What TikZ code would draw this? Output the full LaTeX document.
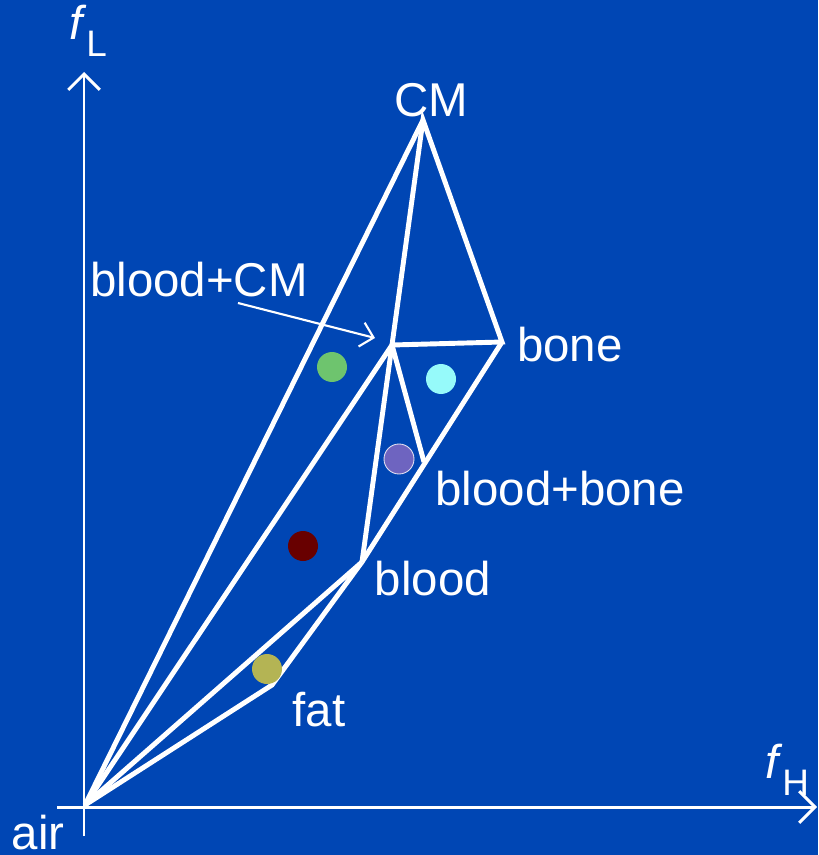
\documentclass[tikz,border=0pt]{standalone}
\usepackage{fontspec}
\setmainfont{Liberation Sans}
\usetikzlibrary{arrows.meta}
\definecolor{bgblue}{RGB}{0,70,180}
\definecolor{dotgreen}{RGB}{110,196,110}
\definecolor{dotcyan}{RGB}{150,250,250}
\definecolor{dotpurple}{RGB}{110,100,192}
\definecolor{dotred}{RGB}{104,0,0}
\definecolor{dotolive}{RGB}{180,180,84}
\begin{document}
\begin{tikzpicture}[x=0.02cm,y=-0.02cm,axis/.style={white,line width=1.7pt,-{Straight Barb[length=9pt,width=18pt,line width=1.7pt]}},edge/.style={white,line width=2.8pt,line join=miter},label/.style={text=white,inner sep=0pt,font=\fontsize{27}{30}\selectfont},dot/.style={circle,inner sep=0pt,minimum size=0.6cm}]
\fill[bgblue] (0,0) rectangle (818,855);
\useasboundingbox (0,0) rectangle (818,855);
% corners of the tetrahedron
\coordinate (air) at (85,805);
\coordinate (CM) at (423,120);
\coordinate (bone) at (502,342);
\coordinate (bloodCM) at (392,345);
\coordinate (bloodbone) at (424,462);
\coordinate (blood) at (362,562);
\coordinate (fat) at (272,685);
\coordinate (ytip) at (84,72);
\coordinate (xtip) at (817,807);
\coordinate (ybot) at (84,836);
\coordinate (xleft) at (57,807);
% axes
\draw[axis] (ybot)--(ytip);
\draw[axis] (xleft)--(xtip);
% edges
\draw[edge] (air)--(CM);
\draw[edge] (air)--(bloodCM);
\draw[edge] (air)--(blood);
\draw[edge] (air)--(fat)--(blood);
\draw[edge] (blood)--(bloodCM)--(CM)--(bone)--(bloodCM);
\draw[edge] (bone)--(blood);
\draw[edge] (bloodCM)--(bloodbone);
% dots
\node[dot,fill=dotgreen] (dgreen) at (332,367) {};
\node[dot,fill=dotcyan] (dcyan) at (441,379) {};
\node[dot,fill=dotpurple,draw=white!80!dotpurple,line width=0.5pt] (dpurple) at (399,459) {};
\node[dot,fill=dotred] (dred) at (303,546) {};
\node[dot,fill=dotolive] (dolive) at (267,669) {};
% labels
\node[label] (lfL) at (88,31) {\textit{f}\raisebox{-0.35em}{\fontsize{21}{21}\selectfont L}};
\node[label] (lfH) at (787,770) {\textit{f}\raisebox{-0.35em}{\fontsize{21}{21}\selectfont H}};
\node[label] (lair) at (38,833) {air};
\node[label] (lCM) at (431,100) {CM};
\node[label] (lbone) at (570,345) {bone};
\node[label] (lbloodbone) at (560,489) {blood+bone};
\node[label] (lblood) at (433,579) {blood};
\node[label] (lfat) at (319,710) {fat};
\node[label] (lbloodCM) at (199,280) {blood+CM};
\coordinate (arrtip) at (375,338);
\draw[white,line width=1.2pt,-{Straight Barb[length=7pt,width=14pt,line width=1.2pt]}] (238,303)--(arrtip);
\end{tikzpicture}
\end{document}
